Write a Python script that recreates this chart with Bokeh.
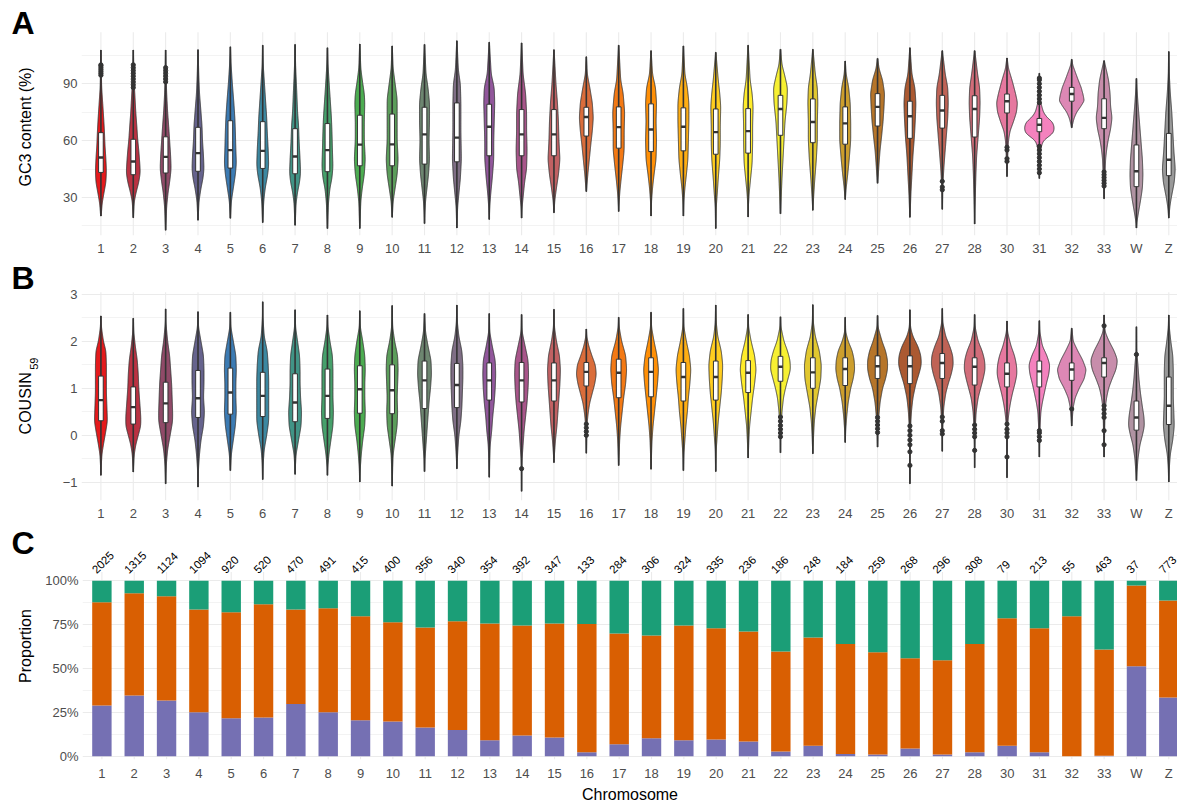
import numpy as np
from bokeh.plotting import figure
from bokeh.layouts import column, row
from bokeh.models import FixedTicker, Range1d, NumeralTickFormatter
from bokeh.core.properties import value
from bokeh.embed import file_html
from bokeh.resources import INLINE

# ---------------- data ----------------
CHROMS = ["1", "2", "3", "4", "5", "6", "7", "8", "9", "10", "11", "12", "13", "14",
          "15", "16", "17", "18", "19", "20", "21", "22", "23", "24", "25", "26", "27",
          "28", "30", "31", "32", "33", "W", "Z"]

# Panel A: GC3 content (%)
GC3_MIN = [20.2, 19.3, 12.7, 18, 19, 16.7, 15.3, 13.6, 13.6, 19.5, 16.2, 13.9, 18.4, 19.1,
           21.9, 33.1, 22.6, 20.2, 20.2, 13.6, 19.7, 21.4, 23.2, 28.9, 37.5, 19.5, 23.7,
           16, 41, 40, 66.8, 29.3, 13.9, 19.1]
GC3_Q1 = [43.2, 42, 42.9, 43.8, 45.5, 45.3, 42.5, 43.6, 46.7, 46.7, 47.6, 48.8, 52, 52,
          52, 62.4, 56, 54.2, 54.6, 52.8, 53.4, 62.8, 58.9, 58.1, 67.7, 61.2, 66.6,
          61.9, 74.6, 64.7, 80.8, 66.3, 35.7, 41.5]
GC3_MED = [51.1, 49, 51.4, 53.4, 55, 54.6, 51.6, 55, 57.9, 58, 63.3, 61.6, 67.3, 63.3,
           63.3, 72.5, 67.1, 65.9, 67.3, 64.5, 65, 76.7, 69.8, 69.1, 77.8, 72.9, 75.9,
           76.7, 80.8, 68.4, 84.6, 72, 43.8, 49.9]
GC3_Q3 = [64.2, 60.7, 62, 67, 70.5, 70, 66.3, 69, 73.4, 74, 77.6, 79.9, 79.2, 76.4,
          76.4, 77.6, 77.8, 79.4, 77.3, 76.7, 76.9, 83.9, 82, 77.8, 84.8, 80.8, 83.9,
          83.7, 84.6, 71.7, 88.1, 82.1, 57.7, 63.8]
GC3_MAX = [107.8, 107.8, 107.8, 108, 109.5, 110.4, 110.8, 109, 111, 110, 110.8, 112.7, 112,
           111.6, 108, 104.3, 110.4, 107.5, 110, 106.6, 110.4, 108.2, 108.2, 102, 103.4,
           109, 107.5, 107.5, 103.6, 95.6, 102.9, 102.2, 92.8, 107]
GC3_OUTLIERS = [
    [94.5, 95.5, 96.5, 97.5, 98.5, 99.5, 100], [88, 89.5, 91, 92.5, 94, 95.5, 97, 98.5, 100],
    [91, 92.5, 94, 95.5, 97, 98.5], [], [], [], [], [], [], [], [], [], [], [], [], [], [],
    [], [], [], [], [], [], [], [], [], [34, 35.5, 38.5], [], [49, 50.5, 55, 56.5],
    [80, 82, 84, 86, 88, 90, 92, 93, 43, 45, 47, 49, 51, 53, 55, 57], [],
    [36, 37.5, 39, 40.5, 42, 43.5], [], []]
# violin density profile: (value, relative density)
GC3_DENSITY = [
    [(20.2, .5), (27, 2.5), (33, 6.5), (38, 10), (44, 11), (50, 10), (58, 8), (65, 7), (72, 5.5), (80, 3.5), (88, 1.5), (95, 1), (100, .8), (107.8, .3)],
    [(19.3, .3), (28, 2), (33, 6), (38, 11), (43, 14), (48, 13), (55, 11), (60, 9), (68, 7), (75, 5), (85, 3), (92, 1.5), (100, .8), (107.8, .3)],
    [(12.7, .3), (25, 2), (33, 5), (38, 8), (45, 11), (52, 10), (60, 8), (68, 6), (75, 4), (85, 2), (95, 1), (107.8, .3)],
    [(18, .3), (28, 2), (35, 6), (40, 10), (45, 12), (52, 11), (60, 9), (68, 8), (75, 6), (85, 3), (95, 1.5), (108, .3)],
    [(19, .3), (28, 2), (35, 6), (42, 10), (48, 12), (55, 11), (65, 10), (72, 9), (80, 7), (90, 4), (100, 1.5), (109.5, .3)],
    [(16.7, .3), (28, 2), (35, 5), (42, 10), (47, 12), (55, 11), (65, 9), (72, 8), (80, 6), (90, 3.5), (100, 1), (110.4, .3)],
    [(15.3, .3), (27, 2), (33, 5), (38, 9), (43, 11), (50, 10), (60, 8), (68, 7), (75, 5), (88, 3), (100, 1), (110.8, .3)],
    [(13.6, .3), (27, 2), (35, 5), (40, 9), (46, 11), (55, 10), (65, 9), (72, 8), (80, 6), (90, 3.5), (100, 1.2), (109, .3)],
    [(13.6, .3), (28, 2), (35, 5), (42, 9), (50, 11), (60, 9), (70, 9), (80, 10), (85, 9), (90, 6), (98, 2), (111, .3)],
    [(19.5, .3), (28, 2), (35, 6), (42, 10), (50, 12), (60, 10), (70, 10), (82, 10), (90, 6), (98, 2), (110, .3)],
    [(16.2, .3), (20, .5), (28, 2), (35, 5), (42, 8), (50, 10), (60, 9), (70, 10), (80, 10), (88, 7), (95, 3), (110.8, .3)],
    [(13.9, .3), (25, 1.5), (32, 4), (40, 7), (50, 9), (65, 8), (80, 8), (90, 7), (97, 3), (112.7, .3)],
    [(18.4, .3), (25, 1), (32, 3), (40, 6), (50, 9), (60, 9), (70, 10), (80, 11), (88, 10), (95, 4), (112, .3)],
    [(19.1, .3), (25, 1), (30, 3), (38, 6), (45, 10), (55, 11), (65, 10), (75, 10), (85, 8), (95, 3), (111.6, .3)],
    [(21.9, .3), (28, 1.5), (35, 5), (42, 9), (50, 12), (60, 10), (70, 9), (80, 7), (90, 4), (108, .3)],
    [(33.1, .3), (42, 3), (50, 6), (58, 9), (65, 12), (72, 14), (80, 12), (88, 7), (95, 2), (104.3, .3)],
    [(22.6, .3), (25, .5), (32, 2), (40, 5), (47, 8), (55, 11), (65, 11), (75, 12), (85, 9), (92, 4), (110.4, .3)],
    [(20.2, .3), (28, 1), (35, 3), (42, 6), (50, 10), (60, 11), (70, 10), (80, 11), (88, 9), (95, 3), (107.5, .3)],
    [(20.2, .3), (28, 1), (35, 3), (42, 6), (50, 9), (60, 10), (70, 11), (80, 11), (88, 8), (95, 3), (110, .3)],
    [(13.6, .3), (25, 1), (32, 3), (40, 5), (50, 8), (58, 9), (68, 9), (78, 10), (85, 8), (92, 5), (106.6, .3)],
    [(19.7, .3), (25, .5), (32, 2), (40, 5), (48, 8), (58, 9), (68, 9), (78, 10), (85, 8), (92, 4), (110.4, .3)],
    [(21.4, .3), (30, 1.5), (40, 3), (50, 5), (60, 7), (70, 9), (80, 13), (88, 14), (95, 8), (100, 3), (108.2, .3)],
    [(23.2, .3), (25, .5), (32, 2), (40, 4), (50, 7), (60, 9), (70, 9), (80, 10), (88, 9), (95, 5), (108.2, .3)],
    [(28.9, .3), (35, 2), (42, 5), (50, 8), (60, 11), (70, 11), (80, 10), (88, 7), (95, 2), (102, .3)],
    [(37.5, .3), (40, 1), (48, 3), (55, 5), (62, 8), (70, 11), (78, 13), (85, 14), (92, 10), (98, 3), (103.4, .3)],
    [(19.5, .3), (25, 1), (32, 2), (42, 4), (52, 6), (62, 9), (72, 11), (80, 12), (88, 10), (95, 4), (109, .3)],
    [(23.7, .3), (35, 1), (40, 2), (45, 3), (52, 5), (62, 8), (72, 11), (80, 12), (88, 11), (95, 6), (107.5, .3)],
    [(16, .3), (22, .5), (32, 1.5), (42, 2.5), (52, 4), (62, 7), (72, 10), (80, 11), (88, 10), (95, 6), (107.5, .3)],
    [(41, .3), (48, 1), (55, 2), (60, 3), (65, 6), (70, 13), (75, 19), (80, 21), (85, 17), (92, 10), (98, 3), (103.6, .3)],
    [(40, .3), (48, 1), (53, 2), (57, 4), (60, 8), (62, 18), (64, 28), (67, 30), (70, 26), (72, 16), (75, 8), (80, 3), (88, 1), (95.6, .3)],
    [(66.8, .3), (69, 2), (72, 5), (75, 10), (78, 18), (81, 25), (84, 23), (88, 19), (92, 13), (97, 6), (100, 2), (102.9, .3)],
    [(29.3, .3), (35, 1), (42, 2), (50, 3), (55, 5), (60, 8), (66, 13), (72, 16), (78, 13), (85, 12), (92, 9), (98, 4), (102.2, .3)],
    [(13.9, .3), (17, 1), (22, 4), (28, 8), (35, 12), (42, 13), (50, 12), (60, 9), (70, 6), (80, 3), (88, 1), (92.8, .3)],
    [(19.1, .3), (25, 2), (30, 5), (38, 11), (45, 13), (55, 10), (65, 8), (75, 6), (85, 3), (95, 1), (107, .3)],
]

# Panel B: COUSIN_59
COU_MIN = [-0.85, -0.78, -1.03, -1.10, -0.75, -0.94, -0.83, -0.85, -0.99, -1.08, -0.77, -0.71,
           -0.89, -1.19, -0.58, -0.38, -0.64, -0.72, -0.75, -0.77, -0.48, -0.37, -0.39, -0.15,
           -0.25, -1.03, -0.34, -0.69, -0.90, -0.46, 0.20, -0.46, -0.96, -0.99]
COU_Q1 = [0.31, 0.24, 0.27, 0.38, 0.45, 0.40, 0.29, 0.36, 0.47, 0.46, 0.57, 0.59, 0.75, 0.71,
          0.73, 1.05, 0.80, 0.82, 0.73, 0.75, 0.91, 1.15, 1.00, 1.06, 1.21, 1.10, 1.21, 1.07,
          1.03, 1.03, 1.17, 1.24, 0.11, 0.23]
COU_MED = [0.75, 0.60, 0.68, 0.79, 0.91, 0.84, 0.70, 0.84, 0.98, 0.96, 1.17, 1.07, 1.17, 1.17,
           1.17, 1.35, 1.33, 1.35, 1.24, 1.24, 1.33, 1.46, 1.34, 1.41, 1.47, 1.47, 1.54, 1.46,
           1.31, 1.36, 1.40, 1.54, 0.38, 0.63]
COU_Q3 = [1.26, 1.03, 1.13, 1.38, 1.43, 1.34, 1.31, 1.41, 1.48, 1.50, 1.58, 1.53, 1.54, 1.55,
          1.54, 1.55, 1.62, 1.65, 1.55, 1.58, 1.59, 1.68, 1.65, 1.65, 1.69, 1.69, 1.74, 1.65,
          1.54, 1.58, 1.54, 1.65, 0.73, 1.24]
COU_MAX = [2.54, 2.49, 2.69, 2.63, 2.62, 2.84, 2.67, 2.56, 2.65, 2.76, 2.59, 2.77, 2.59, 2.57,
           2.68, 2.26, 2.51, 2.62, 2.70, 2.77, 2.57, 2.52, 2.78, 2.51, 2.55, 2.67, 2.70, 2.57,
           2.43, 2.44, 2.28, 2.56, 2.31, 2.56]
COU_OUTLIERS = [[], [], [], [], [], [], [], [], [], [], [], [], [], [-0.71], [],
                [0.0, 0.08, 0.16, 0.24], [], [], [], [], [],
                [-0.03, 0.05, 0.13, 0.21, 0.30, 0.39], [], [],
                [0.06, 0.14, 0.22, 0.30, 0.38],
                [-0.64, -0.35, -0.20, -0.10, 0.0, 0.10, 0.20],
                [0.03, 0.10, 0.30, 0.39],
                [-0.32, -0.03, 0.05, 0.13, 0.22],
                [-0.46, -0.03, 0.05, 0.13, 0.24],
                [-0.11, -0.03, 0.05, 0.10],
                [0.56],
                [-0.20, 0.10, 0.38, 0.46, 0.55, 0.63, 2.33],
                [1.72], []]
COU_DENSITY = [
    [(-.85, .3), (-.7, .5), (-.4, 2), (-.2, 5), (.1, 10), (.3, 13), (.6, 12), (.9, 11), (1.2, 11), (1.5, 11), (1.8, 10), (2.0, 5), (2.3, 1), (2.54, .3)],
    [(-.78, .3), (-.7, .5), (-.4, 2), (-.2, 5), (0, 10), (.2, 15), (.4, 15), (.7, 13), (1.0, 11), (1.3, 10), (1.6, 8), (1.9, 4), (2.2, 1), (2.49, .3)],
    [(-1.03, .3), (-.9, .5), (-.6, 1.5), (-.3, 4), (0, 9), (.3, 14), (.5, 14), (.8, 13), (1.1, 12), (1.4, 10), (1.7, 8), (2.0, 4), (2.4, .5), (2.69, .3)],
    [(-1.1, .3), (-.7, 1), (-.4, 3), (-.1, 6), (.2, 11), (.5, 13), (.8, 11), (1.1, 12), (1.4, 12), (1.7, 11), (2.0, 6), (2.3, 1), (2.63, .3)],
    [(-.75, .3), (-.4, 2), (-.1, 6), (.2, 10), (.5, 12), (.8, 11), (1.1, 11), (1.4, 12), (1.7, 11), (2.0, 6), (2.3, 1), (2.62, .3)],
    [(-.94, .3), (-.6, 1), (-.3, 3), (0, 8), (.3, 12), (.6, 12), (.9, 12), (1.2, 12), (1.5, 11), (1.8, 9), (2.1, 3), (2.5, .5), (2.84, .3)],
    [(-.83, .3), (-.7, .5), (-.4, 2), (-.1, 7), (.2, 12), (.5, 13), (.8, 11), (1.1, 10), (1.4, 10), (1.7, 9), (2.0, 5), (2.3, 1), (2.67, .3)],
    [(-.85, .3), (-.7, .5), (-.4, 3), (-.1, 7), (.2, 11), (.5, 12), (.8, 11), (1.1, 11), (1.4, 11), (1.7, 10), (2.0, 5), (2.3, 1), (2.56, .3)],
    [(-.99, .3), (-.7, 1), (-.4, 3), (-.1, 6), (.2, 10), (.5, 11), (.8, 10), (1.1, 10), (1.4, 11), (1.7, 10), (2.0, 6), (2.3, 1), (2.65, .3)],
    [(-1.08, .3), (-.7, 1), (-.4, 2), (-.1, 6), (.2, 10), (.5, 11), (.8, 10), (1.1, 11), (1.4, 12), (1.7, 11), (2.0, 5), (2.3, 1), (2.76, .3)],
    [(-.77, .3), (-.5, 1), (-.2, 3), (.1, 5), (.4, 7), (.7, 9), (1.0, 12), (1.3, 14), (1.6, 13), (1.9, 7), (2.2, 2), (2.59, .3)],
    [(-.71, .3), (-.6, .5), (-.3, 2), (0, 4), (.3, 8), (.6, 10), (.9, 11), (1.2, 12), (1.5, 12), (1.8, 10), (2.1, 4), (2.4, 1), (2.77, .3)],
    [(-.89, .3), (-.5, 1), (-.2, 2), (.1, 5), (.4, 7), (.7, 10), (1.0, 12), (1.3, 13), (1.6, 12), (1.9, 6), (2.2, 1), (2.59, .3)],
    [(-1.19, .3), (-.8, .5), (-.5, 1), (-.2, 3), (.1, 5), (.4, 8), (.7, 11), (1.0, 13), (1.3, 14), (1.6, 13), (1.9, 7), (2.2, 1), (2.57, .3)],
    [(-.58, .3), (-.4, 1), (-.1, 3), (.2, 6), (.5, 8), (.8, 10), (1.1, 12), (1.4, 13), (1.7, 11), (2.0, 5), (2.3, 1), (2.68, .3)],
    [(-.38, .3), (0, 1), (.3, 2), (.5, 4), (.7, 7), (.9, 12), (1.1, 17), (1.3, 20), (1.5, 18), (1.7, 11), (1.9, 5), (2.1, 1), (2.26, .3)],
    [(-.64, .3), (-.4, 1), (-.1, 2), (.2, 4), (.5, 7), (.8, 10), (1.1, 14), (1.4, 16), (1.7, 14), (2.0, 6), (2.3, 1), (2.51, .3)],
    [(-.72, .3), (-.4, 1), (-.1, 2), (.2, 4), (.5, 7), (.8, 10), (1.1, 13), (1.4, 15), (1.7, 12), (2.0, 6), (2.3, 1), (2.62, .3)],
    [(-.75, .3), (-.4, 1), (-.1, 3), (.2, 5), (.5, 8), (.8, 10), (1.1, 13), (1.4, 15), (1.7, 12), (2.0, 6), (2.3, 1), (2.7, .3)],
    [(-.77, .3), (-.3, 1), (0, 3), (.3, 5), (.6, 8), (.9, 11), (1.2, 13), (1.5, 14), (1.8, 11), (2.1, 4), (2.4, 1), (2.77, .3)],
    [(-.48, .3), (-.4, .5), (-.1, 1.5), (.2, 3), (.5, 6), (.8, 9), (1.1, 13), (1.4, 16), (1.7, 13), (2.0, 6), (2.3, 1), (2.57, .3)],
    [(-.37, .3), (-.1, .5), (.2, 1.5), (.5, 3), (.8, 6), (1.0, 10), (1.2, 15), (1.4, 20), (1.6, 19), (1.8, 14), (2.0, 7), (2.3, 1), (2.52, .3)],
    [(-.39, .3), (-.3, .5), (0, 1.5), (.3, 3), (.6, 6), (.9, 11), (1.2, 16), (1.5, 17), (1.8, 13), (2.1, 5), (2.4, 1), (2.78, .3)],
    [(-.15, .3), (.1, 1), (.4, 3), (.7, 6), (1.0, 11), (1.2, 16), (1.4, 19), (1.6, 18), (1.8, 14), (2.0, 6), (2.2, 1), (2.51, .3)],
    [(-.25, .3), (.1, 1), (.4, 2.5), (.7, 5), (1.0, 10), (1.2, 16), (1.4, 20), (1.6, 20), (1.8, 16), (2.0, 9), (2.3, 1), (2.55, .3)],
    [(-1.03, .2), (-.5, .5), (-.1, 1), (.2, 1.5), (.5, 3), (.8, 6), (1.1, 12), (1.3, 18), (1.5, 23), (1.7, 22), (1.9, 16), (2.1, 6), (2.3, 1), (2.67, .3)],
    [(-.34, .3), (0, .5), (.3, 1.5), (.6, 3), (.9, 7), (1.1, 12), (1.3, 18), (1.5, 22), (1.7, 21), (1.9, 15), (2.1, 7), (2.4, 1), (2.7, .3)],
    [(-.69, .2), (-.2, .5), (.2, 1.5), (.5, 3), (.8, 7), (1.0, 12), (1.2, 17), (1.4, 21), (1.6, 20), (1.8, 15), (2.0, 7), (2.3, 1), (2.57, .3)],
    [(-.9, .2), (-.5, .3), (0, 1), (.3, 2), (.5, 4), (.7, 7), (.9, 11), (1.1, 16), (1.3, 20), (1.5, 19), (1.7, 15), (1.9, 8), (2.2, 1), (2.43, .3)],
    [(-.46, .3), (-.2, .5), (.2, 1.5), (.5, 3), (.7, 6), (.9, 10), (1.1, 14), (1.3, 19), (1.5, 21), (1.7, 15), (1.9, 6), (2.2, 1), (2.44, .3)],
    [(.2, .3), (.4, 1.5), (.6, 3), (.8, 7), (1.0, 15), (1.2, 25), (1.4, 29), (1.6, 22), (1.8, 12), (2.0, 3), (2.28, .3)],
    [(-.46, .3), (0, 1), (.3, 1.5), (.6, 2.5), (.8, 5), (1.0, 9), (1.2, 16), (1.4, 24), (1.6, 27), (1.8, 20), (2.0, 10), (2.2, 2), (2.56, .3)],
    [(-.96, .3), (-.8, 1), (-.5, 3), (-.2, 7), (0, 12), (.2, 16), (.4, 15), (.6, 12), (.9, 8), (1.2, 5), (1.5, 3), (1.8, .5), (2.31, .3)],
    [(-.99, .3), (-.7, 1), (-.4, 3), (-.1, 8), (.2, 11), (.5, 10), (.8, 9), (1.1, 9), (1.4, 9), (1.7, 8), (2.0, 4), (2.3, 1), (2.56, .3)],
]

# Panel C: proportions of three gene classes (bottom, middle, top) and gene counts
PROP_LOW = [0.289, 0.346, 0.318, 0.251, 0.217, 0.221, 0.297, 0.251, 0.205, 0.198, 0.164, 0.150,
            0.091, 0.118, 0.107, 0.023, 0.068, 0.103, 0.091, 0.095, 0.084, 0.027, 0.059, 0.013,
            0.010, 0.044, 0.010, 0.023, 0.059, 0.023, 0.000, 0.002, 0.513, 0.335]
PROP_MID = [0.589, 0.583, 0.594, 0.585, 0.604, 0.646, 0.539, 0.593, 0.593, 0.566, 0.570, 0.620,
            0.666, 0.627, 0.650, 0.730, 0.632, 0.585, 0.654, 0.635, 0.627, 0.570, 0.618, 0.626,
            0.583, 0.515, 0.537, 0.616, 0.728, 0.707, 0.798, 0.606, 0.460, 0.553]
PROP_HIGH = [0.122, 0.071, 0.088, 0.164, 0.179, 0.133, 0.164, 0.156, 0.202, 0.236, 0.266, 0.230,
             0.243, 0.255, 0.243, 0.247, 0.300, 0.312, 0.255, 0.270, 0.289, 0.403, 0.323, 0.361,
             0.407, 0.441, 0.453, 0.361, 0.213, 0.270, 0.202, 0.392, 0.027, 0.112]
GENE_COUNTS = [2025, 1315, 1124, 1094, 920, 520, 470, 491, 415, 400, 356, 340, 354, 392, 347,
               133, 284, 306, 324, 335, 236, 186, 248, 184, 259, 268, 296, 308, 79, 213, 55,
               463, 37, 773]

# ---------------- styling / helpers ----------------
SET1 = ["#E41A1C", "#377EB8", "#4DAF4A", "#984EA3", "#FF7F00", "#FFFF33", "#A65628", "#F781BF", "#999999"]
BAR_COLS = ["#7570B3", "#D95F02", "#1B9E77"]
FONT = "Liberation Sans"
GRID = "#ebebeb"
DARK = "#333333"
W = 1177
STRIP = 42             # left strip holding panel letters and y titles
LEFT = 81              # canvas x of the plotting frames' left edge
PXU = 32.36            # pixels per category step
X0 = 0.4
X1 = X0 + (W - LEFT) / PXU
HALF_PI = np.pi / 2


def ramp(cols, n):
    rgb = np.array([[int(c[i:i + 2], 16) for i in (1, 3, 5)] for c in cols], float)
    out = []
    for v in np.linspace(0, 1, n) * (len(cols) - 1):
        i = min(int(np.floor(v)), len(cols) - 2)
        f = v - i
        c = rgb[i] * (1 - f) + rgb[i + 1] * f
        out.append("#%02x%02x%02x" % tuple(int(round(x)) for x in c))
    return out


COLORS = ramp(SET1, len(CHROMS))
XPOS = np.arange(1, len(CHROMS) + 1)
DENS_TO_HALFWIDTH = 1.0 / (2 * PXU)


def outline(xc, prof):
    v = np.array([p[0] for p in prof], float)
    d = np.array([p[1] for p in prof], float)
    ys = np.linspace(v[0], v[-1], 260)
    w = np.interp(ys, v, d)
    k = np.exp(-0.5 * (np.arange(-12, 13) / 4.5) ** 2)
    k /= k.sum()
    ws = np.convolve(np.pad(w, 12, mode="edge"), k, mode="valid")
    hw = ws * DENS_TO_HALFWIDTH
    return list(np.concatenate([xc - hw, (xc + hw)[::-1]])), list(np.concatenate([ys, ys[::-1]]))


class Panel:
    """Vertical placement of one panel: canvas pixels <-> data values."""

    def __init__(self, canvas_top, height, top_border, bottom_border, ref_px, ref_val, px_per_unit):
        self.ct, self.h, self.tb, self.bb = canvas_top, height, top_border, bottom_border
        self.ref_px, self.ref_val, self.ppu = ref_px, ref_val, px_per_unit
        self.frame_top = canvas_top + top_border
        self.frame_bottom = canvas_top + height - bottom_border

    def val(self, py):
        return self.ref_val + (self.ref_px - py) / self.ppu

    def yrange(self):
        return Range1d(self.val(self.frame_bottom), self.val(self.frame_top))


def base_fig(pan):
    p = figure(width=W - STRIP, height=pan.h, x_range=Range1d(X0, X1), y_range=pan.yrange(),
               output_backend="svg", toolbar_location=None, title=None,
               min_border_left=LEFT - STRIP, min_border_right=0, min_border_top=pan.tb,
               min_border_bottom=pan.bb)
    p.outline_line_color = None
    p.background_fill_color = "white"
    p.border_fill_color = "white"
    for ax in (p.xaxis[0], p.yaxis[0]):
        ax.axis_line_color = None
        ax.major_tick_line_color = None
        ax.minor_tick_line_color = None
        ax.major_tick_out = 0
        ax.major_tick_in = 0
        ax.minor_tick_out = 0
        ax.minor_tick_in = 0
        ax.major_label_text_font = FONT
        ax.major_label_text_font_size = "13px"
        ax.major_label_text_color = "#4d4d4d"
    p.xaxis.ticker = FixedTicker(ticks=list(XPOS))
    p.xaxis.major_label_overrides = {int(i): c for i, c in zip(XPOS, CHROMS)}
    p.xaxis.major_label_standoff = 5
    p.yaxis.major_label_standoff = 4
    p.xgrid.visible = False
    p.ygrid.grid_line_color = GRID
    p.ygrid.grid_line_width = 1.1
    p.ygrid.minor_grid_line_color = GRID
    p.ygrid.minor_grid_line_width = 0.6
    return p


def vgrid(p, pan, top_px):
    p.segment(x0=XPOS, x1=XPOS, y0=pan.val(pan.frame_bottom), y1=pan.val(top_px),
              line_color=GRID, line_width=1.1)


def text_fig(width, pan, items):
    """A bare strip whose data coordinates are canvas pixels (y negated); holds titles."""
    s = figure(width=width, height=pan.h, x_range=Range1d(0, width),
               y_range=Range1d(-pan.frame_bottom, -pan.frame_top),
               output_backend="svg", toolbar_location=None, title=None,
               min_border_left=0, min_border_right=0, min_border_top=pan.tb,
               min_border_bottom=pan.bb, x_axis_location=None, y_axis_location=None)
    s.grid.visible = False
    s.outline_line_color = None
    s.border_fill_color = "white"
    for text, px, py, size, bold, angle in items:
        s.text(x=[px], y=[-py], text=[text], angle=angle,
               text_font=value(FONT), text_font_size=value(size),
               text_font_style="bold" if bold else "normal", text_color="black",
               text_align="center", text_baseline="middle")
    return s


def violin_panel(p, mins, q1s, meds, q3s, maxs, outs, dens):
    xs, ys = [], []
    for xc, prof in zip(XPOS, dens):
        a, b = outline(float(xc), prof)
        xs.append(a)
        ys.append(b)
    p.patches(xs, ys, fill_color=COLORS, line_color=DARK, line_width=0.9)
    p.segment(x0=XPOS, x1=XPOS, y0=mins, y1=maxs, line_color=DARK, line_width=1.6)
    bw = 0.072
    p.quad(left=XPOS - bw, right=XPOS + bw, bottom=q1s, top=q3s, fill_color="white",
           line_color=DARK, line_width=1.0)
    p.segment(x0=XPOS - bw, x1=XPOS + bw, y0=meds, y1=meds, line_color=DARK, line_width=2.4)
    ox, oy = [], []
    for xc, o in zip(XPOS, outs):
        ox += [float(xc)] * len(o)
        oy += list(o)
    p.scatter(ox, oy, size=4.2, marker="circle", fill_color=DARK, line_color=DARK)


# ---------------- panel A ----------------
panA = Panel(0, 258, 0, 21, 84, 90, 1.91)
pA = base_fig(panA)
pA.yaxis.ticker = FixedTicker(ticks=[30, 60, 90], minor_ticks=[15, 45, 75, 105])
vgrid(pA, panA, 32)
violin_panel(pA, GC3_MIN, GC3_Q1, GC3_MED, GC3_Q3, GC3_MAX, GC3_OUTLIERS, GC3_DENSITY)
sA = text_fig(STRIP, panA, [("A", 22.5, 23, "32px", True, 0.0),
                            ("GC3 content (%)", 25, 127.5, "16px", False, HALF_PI)])

# ---------------- panel B ----------------
panB = Panel(258, 265, 0, 21, 436.3, 0.0, 47.4)
pB = base_fig(panB)
pB.yaxis.ticker = FixedTicker(ticks=[-1, 0, 1, 2, 3], minor_ticks=[-0.5, 0.5, 1.5, 2.5])
pB.yaxis.major_label_overrides = {-1: "\u22121"}
vgrid(pB, panB, 292)
violin_panel(pB, COU_MIN, COU_Q1, COU_MED, COU_Q3, COU_MAX, COU_OUTLIERS, COU_DENSITY)
sB = text_fig(STRIP, panB, [("B", 22.5, 278, "32px", True, 0.0),
                            ("COUSIN", 25, 404, "16px", False, HALF_PI),
                            ("59", 33.5, 364, "11px", False, HALF_PI)])

# ---------------- panel C ----------------
panC = Panel(523, 282, 0, 46, 755.7, 0.0, 175.4)
pC = base_fig(panC)
pC.yaxis.ticker = FixedTicker(ticks=[0, 0.25, 0.5, 0.75, 1.0], minor_ticks=[0.125, 0.375, 0.625, 0.875])
pC.yaxis.formatter = NumeralTickFormatter(format="0%")
pC.xaxis.major_label_standoff = 6
vgrid(pC, panC, 571.5)
low = np.array(PROP_LOW)
mid = low + np.array(PROP_MID)
high = mid + np.array(PROP_HIGH)
pC.vbar(x=XPOS, width=0.6, bottom=0, top=low, fill_color=BAR_COLS[0], line_color=None)
pC.vbar(x=XPOS, width=0.6, bottom=low, top=mid, fill_color=BAR_COLS[1], line_color=None)
pC.vbar(x=XPOS, width=0.6, bottom=mid, top=high, fill_color=BAR_COLS[2], line_color=None)
pC.text(x=XPOS, y=[panC.val(571)] * len(XPOS), text=[str(n) for n in GENE_COUNTS], angle=np.pi / 4,
        x_offset=-8, text_align="left", text_baseline="middle", text_font=value(FONT),
        text_font_size=value("11.5px"), text_color="black")
pC.xaxis.axis_label = "Chromosome"
pC.xaxis.axis_label_text_font = FONT
pC.xaxis.axis_label_text_font_size = "16px"
pC.xaxis.axis_label_text_font_style = "normal"
pC.xaxis.axis_label_text_color = "black"
pC.xaxis.axis_label_standoff = 2
sC = text_fig(STRIP, panC, [("C", 22.5, 542, "32px", True, 0.0),
                            ("Proportion", 25, 645.5, "16px", False, HALF_PI)])

layout = column(row(sA, pA), row(sB, pB), row(sC, pC))
open("out.html", "w").write(file_html(layout, INLINE))
